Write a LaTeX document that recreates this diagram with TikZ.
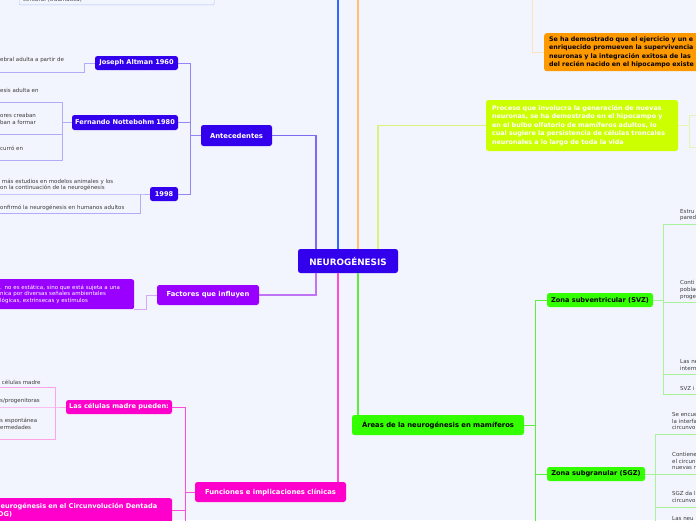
\documentclass[tikz,border=0pt]{standalone}
\usepackage{fontspec}
\setmainfont{DejaVu Sans}
\usepackage{tikz}
\usetikzlibrary{positioning}
\definecolor{fondo}{HTML}{F2F5FD}
\definecolor{azul}{HTML}{3300EE}
\definecolor{azulrama}{HTML}{7C6CF3}
\definecolor{azulsub}{HTML}{9487F5}
\definecolor{azulhoja}{HTML}{B3ABF7}
\definecolor{azultop}{HTML}{3366FF}
\definecolor{cajaborde}{HTML}{AFC0FA}
\definecolor{naranja}{HTML}{FF9900}
\definecolor{naranjarama}{HTML}{FFC070}
\definecolor{naranjahoja}{HTML}{FCE2BE}
\definecolor{lima}{HTML}{CCFF00}
\definecolor{limarama}{HTML}{DDF27A}
\definecolor{limahoja}{HTML}{E6F5B5}
\definecolor{violeta}{HTML}{9900FF}
\definecolor{violetarama}{HTML}{BE74F3}
\definecolor{violetahoja}{HTML}{D7A8F5}
\definecolor{magenta}{HTML}{FF00CC}
\definecolor{magentarama}{HTML}{FF4CD9}
\definecolor{magentahoja}{HTML}{FFA3EA}
\definecolor{verde}{HTML}{33FF00}
\definecolor{verderama}{HTML}{5CEE3A}
\definecolor{verdehoja}{HTML}{A8F29A}
\definecolor{gristxt}{HTML}{3C3C3C}

\begin{document}
\begin{tikzpicture}[x=1pt, y=-1pt,
    tema/.style={rounded corners=2.5pt, inner sep=0pt, align=center,
      font=\bfseries\fontsize{6.6}{8}\selectfont, text=white},
    grande/.style={font=\bfseries\fontsize{6.8}{8}\selectfont},
    hoja/.style={inner sep=0pt, anchor=west, align=left,
      font=\fontsize{5.5}{6.6}\selectfont, text=gristxt},
    rama/.style={line width=1.3pt},
    sub/.style={line width=1pt},
    fina/.style={line width=0.8pt}]
    \useasboundingbox (0,0) rectangle (696,520);
    \fill[fondo] (0,0) rectangle (696,520);
    \clip (0,0) rectangle (696,520);

    \node(N)[tema, fill=azul, minimum width=100pt, minimum height=24pt, font=\bfseries\fontsize{8.8}{10}\selectfont] at (348,261) {NEUROGÉNESIS};

    % antecedentes
    \node(A)[tema, grande, fill=azul, minimum width=71pt, minimum height=21pt] at (236.5,135.5) {Antecedentes};
    \node(A1)[tema, fill=azul, minimum width=83pt, minimum height=14pt] at (136.5,63) {Joseph Altman 1960};
    \node(A2)[tema, fill=azul, minimum width=106pt, minimum height=15pt] at (125,122.5) {Fernando Nottebohm 1980};
    \node(A3)[tema, fill=azul, minimum width=28pt, minimum height=14pt] at (164,194) {1998};
    \node(a11)[hoja] at (0,60) {ebral adulta a partir de};
    \node(a21)[hoja] at (0,90) {esis adulta en};
    \node(a22)[hoja] at (0,119) {ores creaban\\ban a formar};
    \node(a23)[hoja] at (0,148) {curró en};
    \node(a31)[hoja] at (0,185) {\ más estudios en modelos animales y los\\on la continuación de la neurogénesis};
    \node(a32)[hoja] at (0,208) {onfirmó la neurogénesis en humanos adultos};
    \coordinate(a11u) at (-5,72);
    \coordinate(a1k) at (84,72);
    \coordinate(a21u) at (-5,102);
    \coordinate(a22u) at (-5,134);
    \coordinate(a23u) at (-5,160);
    \coordinate(a2k) at (62,122.5);
    \coordinate(a31u) at (-5,194);
    \coordinate(a32u) at (-5,213);
    \coordinate(a3k) at (140,194);
    \coordinate(ak) at (190,135.5);
    \coordinate(nA) at (316,249);
    \draw[fina, azulhoja] (a11u) -- (a1k) |- (A1.west);
    \draw[fina, azulhoja] (a21u) -| (a2k);
    \draw[fina, azulhoja] (a22u) -| (a2k);
    \draw[fina, azulhoja] (a23u) -| (a2k);
    \draw[fina, azulhoja] (a2k) -- (A2.west);
    \draw[fina, azulhoja] (a31u) -- (a3k) -- (A3.west);
    \draw[fina, azulhoja] (a32u) -| (a3k);
    \draw[sub, azulsub] (A1.east) -| (ak);
    \draw[sub, azulsub] (A2.east) -| (ak);
    \draw[sub, azulsub] (A3.east) -| (ak);
    \draw[sub, azulsub] (ak) -- (A.west);
    \draw[rama, azulrama] (A.east) -| (nA);

    % arriba
    \node(T)[draw=cajaborde, fill=fondo, rounded corners=1pt, anchor=south west, text width=187pt, inner xsep=4pt, inner ysep=2pt, text height=25pt, text depth=1pt, align=left, font=\fontsize{5.5}{6.6}\selectfont, text=gristxt] at (19,5) {cerebral (traumática)};
    \coordinate(tB) at (338,-5);
    \coordinate(tO) at (358,-5);
    \draw[rama, azultop] (tB) -- (tB |- N.north);
    \draw[rama, naranjarama] (tO) -- (tO |- N.north);
    \node(O)[tema, fill=naranja, text=black, anchor=north west, minimum width=200pt, minimum height=38pt, text width=190pt, align=left, font=\bfseries\fontsize{6.3}{8.5}\selectfont] at (544,33) {Se ha demostrado que el ejercicio y un e\\enriquecido promueven la supervivencia\\neuronas y la integración exitosa de las\\del recién nacido en el hipocampo existe};
    \coordinate(ok) at (532,-5);
    \draw[sub, naranjahoja] (O.west) -| (ok);

    % proceso
    \node(P)[tema, fill=lima, minimum width=192pt, minimum height=51pt, text width=180pt, align=left, font=\bfseries\fontsize{6.4}{8.4}\selectfont] at (582,125.5) {Proceso que involucra la generación de nuevas\\neuronas, se ha demostrado en el hipocampo y\\en el bulbo olfatorio de mamíferos adultos, lo\\cual sugiere la persistencia de células troncales\\neuronales a lo largo de toda la vida};
    \coordinate(tL) at (378,249);
    \coordinate(pk) at (689,125.5);
    \coordinate(p1u) at (700,115);
    \coordinate(p2u) at (700,147);
    \draw[rama, limarama] (tL) |- (P.west);
    \draw[sub, limahoja] (P.east) -- (pk);
    \draw[fina, limahoja] (p1u) -| (pk);
    \draw[fina, limahoja] (p2u) -| (pk);

    % factores
    \node(F)[tema, grande, fill=violeta, minimum width=102pt, minimum height=20pt] at (208,295) {Factores que influyen};
    \node(f1)[tema, fill=violeta, anchor=north west, minimum width=144pt, minimum height=30pt, text width=124pt, align=left, font=\fontsize{5.5}{6.6}\selectfont] at (-10,279) {. no es estática, sino que está sujeta a una\\nica por diversas señales ambientales\\lógicas, extrínsecas y estímulos};
    \coordinate(fk) at (146,295);
    \coordinate(nF) at (316,273);
    \draw[fina, violetahoja] (f1.south east) -| (fk) -- (F.west);
    \draw[rama, violetarama] (F.east) -| (nF);

    % funciones
    \node(Fu)[tema, grande, fill=magenta, minimum width=151pt, minimum height=20pt] at (270.5,492) {Funciones e implicaciones clínicas};
    \node(C)[tema, fill=magenta, minimum width=106pt, minimum height=14pt] at (119,407) {Las células madre pueden:};
    \node(D)[tema, fill=magenta, anchor=north west, minimum width=182pt, minimum height=24pt, text width=172pt, align=left] at (-10,498) {Neurogénesis en el Circunvolución Dentada\\(DG)};
    \node(c1)[hoja] at (0,382) {\ células madre};
    \node(c2)[hoja] at (0,401) {s/progenitoras};
    \node(c3)[hoja] at (0,424) {s espontánea\\ermedades};
    \coordinate(c1u) at (-5,387);
    \coordinate(c2u) at (-5,407);
    \coordinate(c3u) at (-5,439);
    \coordinate(ck) at (55,407);
    \coordinate(fuk) at (185,492);
    \coordinate(fue) at (185,530);
    \coordinate(nM) at (338,273);
    \draw[fina, magentahoja] (c1u) -| (ck);
    \draw[fina, magentahoja] (c2u) -- (ck) -- (C.west);
    \draw[fina, magentahoja] (c3u) -| (ck);
    \draw[sub, magentarama] (C.east) -| (fuk);
    \draw[sub, magentarama] (D.east) -| (fuk);
    \draw[sub, magentarama] (fuk) -- (fue);
    \draw[sub, magentarama] (fuk) -- (Fu.west);
    \draw[rama, magentarama] (nM) -- (nM |- Fu.north);

    % areas
    \node(Ar)[tema, grande, fill=verde, text=black, minimum width=172pt, minimum height=20pt] at (438,425) {Áreas de la neurogénesis en mamíferos};
    \node(S1)[tema, fill=verde, text=black, minimum width=106pt, minimum height=14pt] at (600,300) {Zona subventricular (SVZ)};
    \node(S2)[tema, fill=verde, text=black, minimum width=98pt, minimum height=14pt] at (596,474) {Zona subgranular (SGZ)};
    \node(s11)[hoja] at (680,215) {Estru\\pared};
    \node(s12)[hoja] at (680,290) {Conti\\poblac\\proge};
    \node(s13)[hoja] at (680,365) {Las ne\\interm};
    \node(s14)[hoja] at (680,388) {SVZ i};
    \node(s21)[hoja] at (672,421) {Se encue\\la interfa\\circunvol};
    \node(s22)[hoja] at (672,461) {Contiene\\el circun\\nuevas n};
    \node(s23)[hoja] at (672,497) {SGZ da l\\circunvol};
    \node(s24)[hoja] at (672,519) {Las neu};
    \coordinate(nG) at (358,273);
    \coordinate(ark) at (535,425);
    \coordinate(are) at (535,530);
    \coordinate(s1k) at (663,300);
    \coordinate(s11u) at (700,224);
    \coordinate(s12u) at (700,302);
    \coordinate(s13u) at (700,374);
    \coordinate(s14u) at (700,394);
    \coordinate(s2k) at (655,474);
    \coordinate(s21u) at (700,434);
    \coordinate(s22u) at (700,474);
    \coordinate(s23u) at (700,507);
    \coordinate(s24u) at (700,532);
    \draw[rama, verderama] (nG) -- (nG |- Ar.north);
    \draw[sub, verderama] (Ar.east) -- (ark) -- (are);
    \draw[sub, verderama] (S1.west) -| (ark);
    \draw[sub, verderama] (S2.west) -| (ark);
    \draw[sub, verdehoja] (S1.east) -- (s1k);
    \draw[fina, verdehoja] (s11u) -| (s1k);
    \draw[fina, verdehoja] (s12u) -| (s1k);
    \draw[fina, verdehoja] (s13u) -| (s1k);
    \draw[fina, verdehoja] (s14u) -| (s1k);
    \draw[sub, verdehoja] (S2.east) -- (s2k);
    \draw[fina, verdehoja] (s21u) -| (s2k);
    \draw[fina, verdehoja] (s22u) -- (s2k);
    \draw[fina, verdehoja] (s23u) -| (s2k);
    \draw[fina, verdehoja] (s24u) -| (s2k);
\end{tikzpicture}
\end{document}
